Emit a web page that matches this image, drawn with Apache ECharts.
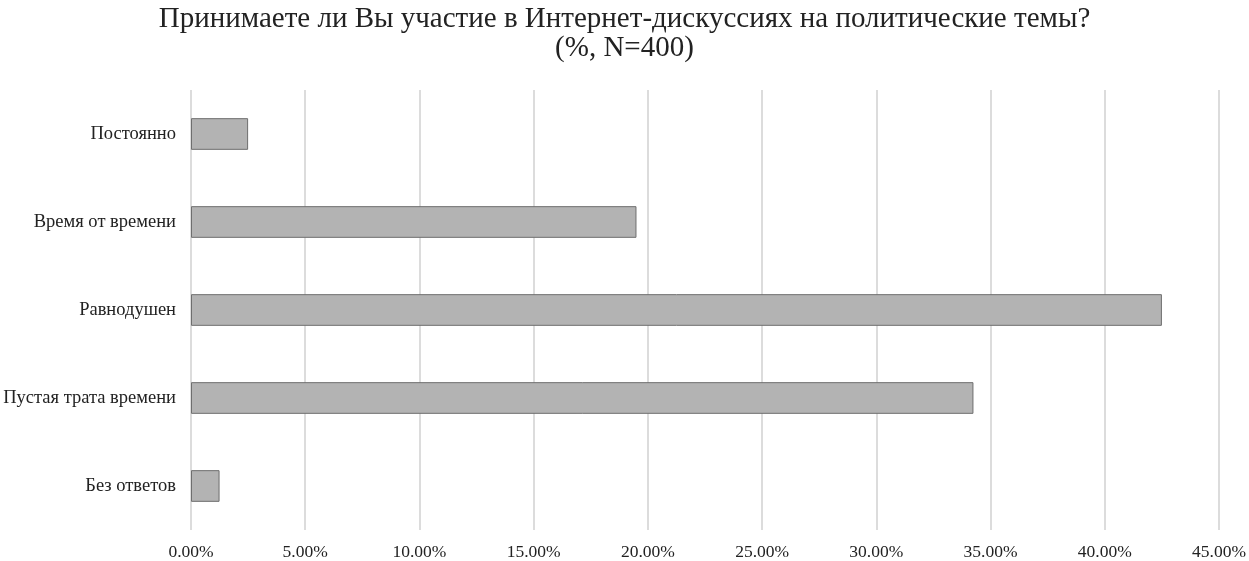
<!DOCTYPE html>
<html><head><meta charset="utf-8">
<script src="https://cdn.jsdelivr.net/npm/echarts@6/dist/echarts.min.js"></script>
<style>html,body{margin:0;padding:0;background:#fff}#c{width:1249px;height:561px}</style>
</head><body><div id="c"></div>
<script>
const categories = ["Постоянно", "Время от времени", "Равнодушен", "Пустая трата времени", "Без ответов"];
const values = [2.5, 19.5, 42.5, 34.25, 1.25];
const titleText = "Принимаете ли Вы участие в Интернет-дискуссиях на политические темы?\n(%, N=400)";

const chart = echarts.init(document.getElementById('c'));
chart.setOption({
  animation: false,
  backgroundColor: '#fff',
  title: {
    text: titleText, left: 'center', top: 0,
    textStyle: { fontFamily: 'Liberation Serif', fontSize: 29, fontWeight: 'normal', color: '#222', lineHeight: 29 }
  },
  grid: { left: 191, right: 27, top: 90, bottom: 31, containLabel: false },
  xAxis: {
    type: 'value', min: 0, max: 45, interval: 5,
    axisLine: { show: false }, axisTick: { show: false },
    splitLine: { lineStyle: { color: '#d0d0d0', width: 1.5 } },
    axisLabel: { formatter: v => v.toFixed(2) + '%', margin: 13, fontFamily: 'Liberation Serif', fontSize: 17.5, color: '#222' }
  },
  yAxis: {
    type: 'category', data: categories, inverse: true,
    axisLine: { show: false }, axisTick: { show: false },
    axisLabel: { margin: 15, fontFamily: 'Liberation Serif', fontSize: 18.5, color: '#222' }
  },
  series: [{
    type: 'bar', data: values, barWidth: '36%',
    itemStyle: { color: '#b3b3b3', borderColor: '#6e6e6e', borderWidth: 1 }
  }]
});
</script></body></html>
